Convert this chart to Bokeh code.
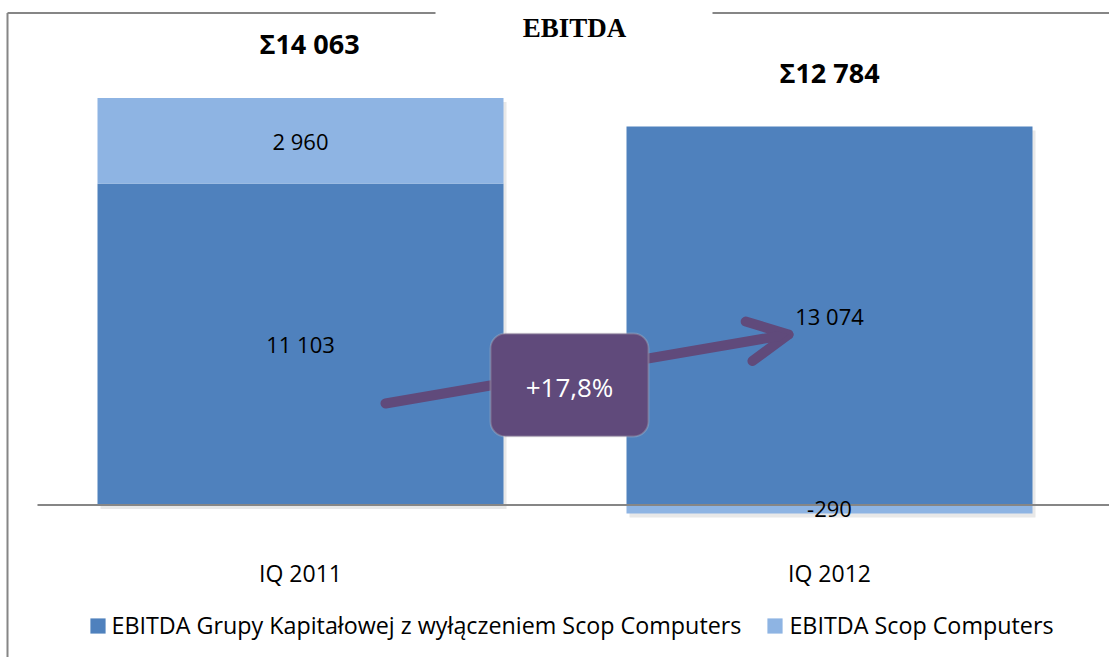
from bokeh.plotting import figure
from bokeh.models import Arrow, OpenHead, BoxAnnotation, Label, Legend, LegendItem, Range1d, ColumnDataSource
from bokeh.embed import file_html
from bokeh.resources import INLINE
from bokeh.core.properties import value

# ---------------- data ----------------
categories = ["IQ 2011", "IQ 2012"]
series_names = ["EBITDA Grupy Kapitałowej z wyłączeniem Scop Computers", "EBITDA Scop Computers"]
group_values = [11103, 13074]   # EBITDA excluding Scop Computers
scop_values = [2960, -290]      # EBITDA Scop Computers
title_text = "EBITDA"


def fmt(v):
    return f"{v:,}".replace(",", " ")


totals = [g + s for g, s in zip(group_values, scop_values)]
total_labels = ["\u03a3" + fmt(t) for t in totals]
change_pct = (group_values[1] / group_values[0] - 1) * 100
change_label = ("+" if change_pct >= 0 else "") + f"{change_pct:.1f}".replace(".", ",") + "%"

# ---------------- layout ----------------
W, H = 1109, 657
PAGE = 0
X0_PX, STEP_PX = 300, 529          # page x of first category centre, distance between centres
BASE_PX, UPP = 504.5, 34.55        # page y of zero line, data units per pixel


def px2x(px):
    return (px - X0_PX) / STEP_PX


def py2y(py):
    return (BASE_PX - py) * UPP


DARK = "#4F81BD"
LIGHT = "#8EB4E3"
PURPLE = "#604A7B"
GRID = "#868686"
FONT = "Open Sans"

p = figure(width=W, height=H, output_backend="svg", toolbar_location=None,
           x_range=Range1d(px2x(PAGE), px2x(PAGE + W)),
           y_range=Range1d(py2y(PAGE + H), py2y(PAGE)),
           x_axis_location=None, y_axis_location=None, min_border=0)
p.grid.visible = False
p.outline_line_color = None
p.background_fill_color = "white"
p.border_fill_color = "white"

xs = list(range(len(categories)))
bar_w = 406 / STEP_PX

# stacked bars
g_bottom = [0] * len(xs)
g_top = group_values
s_bottom = [g if s >= 0 else 0 for g, s in zip(group_values, scop_values)]
s_top = [b + s for b, s in zip(s_bottom, scop_values)]

# subtle shadows
p.vbar(x=[x + 3 / STEP_PX for x in xs], width=bar_w, bottom=[min(a, b) - 4 * UPP for a, b in zip(g_bottom, s_top)],
       top=[max(a, b) - 4 * UPP for a, b in zip(g_top, s_top)], fill_color="#D9D9D9", line_color=None, fill_alpha=0.6)

r1 = p.vbar(x=xs, width=bar_w, bottom=g_bottom, top=g_top, fill_color=DARK, line_color=None)
r2 = p.vbar(x=xs, width=bar_w, bottom=s_bottom, top=s_top, fill_color=LIGHT, line_color=None)

# zero line
p.segment(x0=[px2x(37)], y0=[0], x1=[px2x(PAGE + W)], y1=[0], line_color=GRID, line_width=2)

# value labels
lab_src = ColumnDataSource(dict(
    x=xs + xs,
    y=[(b + t) / 2 for b, t in zip(g_bottom, g_top)] + [(b + t) / 2 for b, t in zip(s_bottom, s_top)],
    t=[fmt(v) for v in group_values] + [fmt(v) for v in scop_values],
))
p.text(x="x", y="y", text="t", source=lab_src, text_align="center", text_baseline="middle",
       text_font=value(FONT), text_font_size="22px", text_color="black")

# totals
p.text(x=xs, y=[max(a, b) for a, b in zip(g_top, s_top)], text=total_labels, y_offset=-54, x_offset=[9, 0],
       text_align="center", text_baseline="middle", text_font=value(FONT), text_font_size="27px",
       text_font_style="bold", text_color="black")

# category labels
p.text(x=xs, y=[0, 0], text=categories, y_offset=68, text_align="center", text_baseline="middle",
       text_font=value(FONT), text_font_size="23px", text_color="black")

# border (broken around the title)
p.segment(x0=[px2x(7), px2x(712), px2x(7)], y0=[py2y(12.5), py2y(12.5), py2y(12.5)],
          x1=[px2x(435), px2x(PAGE + W), px2x(7)], y1=[py2y(12.5), py2y(12.5), py2y(PAGE + H)],
          line_color=GRID, line_width=2)

# title
p.add_layout(Label(x=px2x(574), y=py2y(27), text=title_text, text_align="center", text_baseline="middle",
                   text_font="Liberation Serif", text_font_size="27px", text_font_style="bold", text_color="black"))

# growth arrow and box
p.add_layout(Arrow(x_start=px2x(385), y_start=py2y(403), x_end=px2x(788), y_end=py2y(334),
                   line_color=PURPLE, line_width=10, line_cap="round",
                   end=OpenHead(size=40, line_color=PURPLE, line_width=10, line_cap="round", line_join="round")))
p.add_layout(BoxAnnotation(left=px2x(490), right=px2x(648), top=py2y(333), bottom=py2y(436),
                           fill_color=PURPLE, fill_alpha=1, line_color="#C8C8C8", line_width=2,
                           border_radius=15))
p.add_layout(Label(x=px2x(569), y=py2y(386), text=change_label, text_align="center", text_baseline="middle",
                   text_font=FONT, text_font_size="26px", text_color="white"))

# legend
legend = Legend(items=[LegendItem(label=series_names[0], renderers=[r1]),
                       LegendItem(label=series_names[1], renderers=[r2])],
                orientation="horizontal", location=(87.5, 16), padding=0, margin=0, spacing=24,
                glyph_width=19, glyph_height=19, label_standoff=5, label_height=26,
                label_text_font=FONT, label_text_font_size="23.3px", label_text_color="black",
                border_line_color=None, background_fill_alpha=0)
p.add_layout(legend)

open("out.html", "w").write(file_html(p, INLINE))
